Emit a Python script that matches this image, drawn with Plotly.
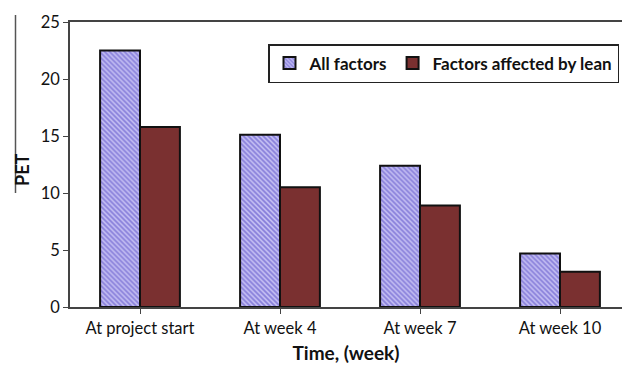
import plotly.graph_objects as go

categories = ["At project start", "At week 4", "At week 7", "At week 10"]
all_factors = [22.5, 15.1, 12.4, 4.7]
lean_factors = [15.8, 10.5, 8.9, 3.1]
y_ticks = [0, 5, 10, 15, 20, 25]

W, H = 622, 367
ML, MR, MT, MB = 70, 0, 22, 60
plot_w = W - ML - MR
plot_h = H - MT - MB

def px_x(x):
    return (x - ML) / plot_w

def px_y(y):
    return (H - MB - y) / plot_h

fig = go.Figure()
fig.add_trace(go.Bar(
    name="All factors", x=categories, y=all_factors,
    marker=dict(
        color="#c4bff3",
        pattern=dict(shape="\\", size=3.5, solidity=0.5, fgcolor="#4a3ec2", bgcolor="#c4bff3"),
        line=dict(color="#111111", width=2),
    ),
))
fig.add_trace(go.Bar(
    name="Factors affected by lean", x=categories, y=lean_factors,
    marker=dict(color="#7a3030", line=dict(color="#111111", width=2)),
))

# the band of the last category runs past the right edge of the page
fig.update_xaxes(
    range=[-0.5, -0.5 + plot_w / 140.0],
    showline=True, linecolor="#444444", linewidth=1.5, mirror=True,
    ticks="outside", ticklen=5, tickcolor="#444444",
    tickfont=dict(family="Lato", size=16.5, color="#111111"),
    title=dict(text="<b>Time, (week)</b>", font=dict(family="Lato", size=19, color="#111111"), standoff=10),
)
fig.update_yaxes(
    range=[0, 25], tickvals=y_ticks,
    showline=True, linecolor="#444444", linewidth=1.5,
    ticks="outside", ticklen=5, tickcolor="#444444",
    showgrid=False, zeroline=False,
    tickfont=dict(family="Lato", size=16.5, color="#111111"),
)

fig.add_annotation(
    text="<b>PET</b>", textangle=-90, xref="paper", yref="paper",
    x=px_x(22), y=px_y(170), xanchor="center", yanchor="middle", showarrow=False,
    font=dict(family="Lato", size=18, color="#111111"),
)
fig.add_shape(
    type="line", xref="paper", yref="paper",
    x0=px_x(15.5), x1=px_x(15.5), y0=px_y(15), y1=px_y(193),
    line=dict(color="#555555", width=1.5),
)

fig.update_layout(
    width=W, height=H,
    margin=dict(l=ML, r=MR, t=MT, b=MB),
    plot_bgcolor="white", paper_bgcolor="white",
    barmode="group", bargap=0.43, bargroupgap=0,
    showlegend=True,
    legend=dict(
        orientation="h", x=px_x(268), y=px_y(44), xanchor="left", yanchor="top",
        bgcolor="white", bordercolor="#222222", borderwidth=1.5,
        font=dict(family="Lato", size=17, color="#111111", weight="bold"),
        itemwidth=30,
    ),
)

fig.write_html("out.html")
